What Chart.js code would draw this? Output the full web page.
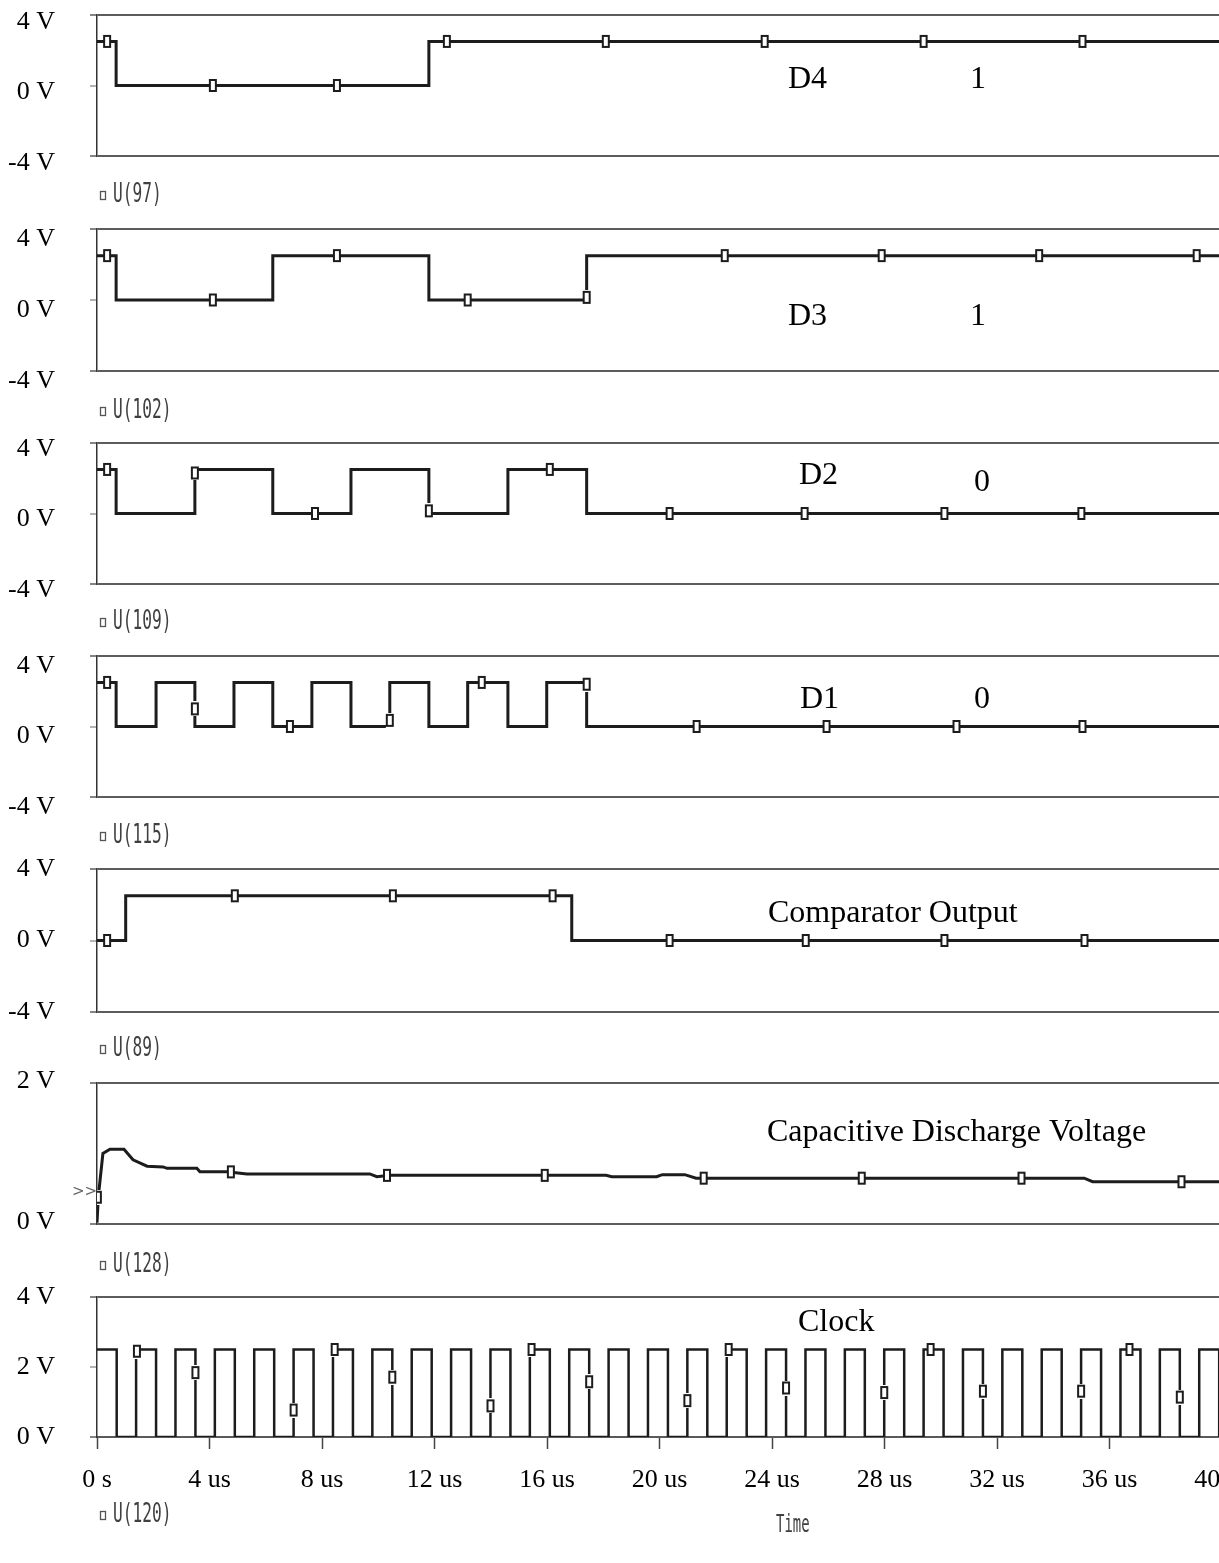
<!DOCTYPE html>
<html>
<head>
<meta charset="utf-8">
<script src="https://cdn.jsdelivr.net/npm/chart.js@4.4.1/dist/chart.umd.min.js"></script>
<style>
  html, body { margin: 0; padding: 0; background: #ffffff; overflow: hidden; }
  #wrap { position: relative; width: 1219px; height: 1563px; overflow: hidden; background: #fff; }
  #wrap canvas { position: absolute; left: 0; }
</style>
</head>
<body>
<div id="wrap"></div>
<script>
// ---------------- DATA (time in microseconds, values in volts) ----------------
const SIM_END = 40.5;

const xTickValues = [0, 4, 8, 12, 16, 20, 24, 28, 32, 36, 40];
const xTickLabels = ['0 s', '4 us', '8 us', '12 us', '16 us', '20 us', '24 us', '28 us', '32 us', '36 us', '40 us'];
const digitalTickLabels = ['-4 V', '0 V', '4 V'];
const capTickLabels = ['0 V', '2 V'];
const clockTickLabels = ['0 V', '2 V', '4 V'];

// D4 = U(97)
const d4Times = [0, 0.68, 11.80];
const d4Volts = [2.5, 0, 2.5];
const d4MarkT = [0.36, 4.12, 8.53, 12.44, 18.09, 23.74, 29.39, 35.04];
const d4MarkV = [2.5, 0, 0, 2.5, 2.5, 2.5, 2.5, 2.5];

// D3 = U(102)
const d3Times = [0, 0.68, 6.25, 11.80, 17.41];
const d3Volts = [2.5, 0, 2.5, 0, 2.5];
const d3MarkT = [0.36, 4.12, 8.53, 13.18, 17.41, 22.32, 27.90, 33.50, 39.10];
const d3MarkV = [2.5, 0, 2.5, 0, 0.15, 2.5, 2.5, 2.5, 2.5];

// D2 = U(109)
const d2Times = [0, 0.68, 3.48, 6.25, 9.03, 11.80, 14.61, 17.41];
const d2Volts = [2.5, 0, 2.5, 0, 2.5, 0, 2.5, 0];
const d2MarkT = [0.36, 3.48, 7.75, 11.80, 16.10, 20.36, 25.16, 30.13, 35.00];
const d2MarkV = [2.5, 2.3, 0, 0.15, 2.5, 0, 0, 0, 0];

// D1 = U(115)
const d1Times = [0, 0.68, 2.10, 3.48, 4.87, 6.25, 7.64, 9.03, 10.41, 11.80, 13.18, 14.61, 15.99, 17.41];
const d1Volts = [2.5, 0, 2.5, 0, 2.5, 0, 2.5, 0, 2.5, 0, 2.5, 0, 2.5, 0];
const d1MarkT = [0.36, 3.48, 6.86, 10.41, 13.68, 17.41, 21.32, 25.94, 30.56, 35.04];
const d1MarkV = [2.5, 1.0, 0, 0.35, 2.5, 2.4, 0, 0, 0, 0];

// Comparator output = U(89)
const cmpTimes = [0, 1.02, 16.88];
const cmpVolts = [0, 2.5, 0];
const cmpMarkT = [0.36, 4.90, 10.52, 16.20, 20.36, 25.20, 30.13, 35.11];
const cmpMarkV = [0, 2.5, 2.5, 2.5, 0, 0, 0, 0];

// Capacitive discharge voltage = U(128)
const capTimes = [0, 0.05, 0.21, 0.46, 0.96, 1.28, 1.78, 2.35, 2.49, 3.55, 3.66, 4.62, 5.33, 9.70, 9.95, 10.41, 10.77, 18.10, 18.30, 19.90, 20.10, 20.90, 21.30, 35.10, 35.40, 40.50];
const capVolts = [0.02, 0.40, 1.00, 1.06, 1.06, 0.91, 0.82, 0.81, 0.79, 0.79, 0.74, 0.74, 0.71, 0.71, 0.67, 0.69, 0.69, 0.69, 0.67, 0.67, 0.70, 0.70, 0.65, 0.65, 0.60, 0.60];
const capMarkT = [0.03, 4.76, 10.31, 15.92, 21.57, 27.19, 32.87, 38.56];
const capMarkV = [0.38, 0.74, 0.69, 0.69, 0.65, 0.65, 0.65, 0.60];

// Clock = U(120)
const clkTimes = [0, 0.70, 1.39, 2.10, 2.79, 3.50, 4.19, 4.90, 5.59, 6.30, 6.99, 7.70, 8.39, 9.10, 9.79, 10.50,
  11.19, 11.90, 12.59, 13.30, 13.99, 14.70, 15.39, 16.10, 16.79, 17.50, 18.19, 18.90, 19.59, 20.30, 20.99, 21.70,
  22.39, 23.10, 23.79, 24.50, 25.19, 25.90, 26.59, 27.30, 27.99, 28.70, 29.39, 30.10, 30.79, 31.50, 32.19, 32.90,
  33.59, 34.30, 34.99, 35.70, 36.39, 37.10, 37.79, 38.50, 39.19, 39.90];
const clkVolts = [2.5, 0, 2.5, 0, 2.5, 0, 2.5, 0, 2.5, 0, 2.5, 0, 2.5, 0, 2.5, 0,
  2.5, 0, 2.5, 0, 2.5, 0, 2.5, 0, 2.5, 0, 2.5, 0, 2.5, 0, 2.5, 0,
  2.5, 0, 2.5, 0, 2.5, 0, 2.5, 0, 2.5, 0, 2.5, 0, 2.5, 0, 2.5, 0,
  2.5, 0, 2.5, 0, 2.5, 0, 2.5, 0, 2.5, 0];
const clkMarkT = [1.42, 3.50, 6.99, 8.45, 10.50, 13.99, 15.45, 17.50, 20.99, 22.46, 24.50, 27.99, 29.64, 31.50, 34.99, 36.71, 38.50];
const clkMarkV = [2.45, 1.84, 0.77, 2.5, 1.71, 0.89, 2.5, 1.58, 1.04, 2.5, 1.40, 1.27, 2.5, 1.31, 1.31, 2.5, 1.14];

// ---------------- helpers ----------------
function toPoints(times, volts) {
  const pts = times.map((t, i) => ({ x: t, y: volts[i] }));
  if (times[times.length - 1] < SIM_END) pts.push({ x: SIM_END, y: volts[volts.length - 1] });
  return pts;
}
function toMarks(times, volts) {
  return times.map((t, i) => ({ x: t, y: volts[i] }));
}

function makeMarkerImage() {
  const c = document.createElement('canvas');
  c.width = 10; c.height = 15;
  const g = c.getContext('2d');
  g.fillStyle = '#ffffff';
  g.fillRect(1, 0, 8, 15);
  g.strokeStyle = '#1c1c1c';
  g.lineWidth = 2;
  g.strokeRect(2, 2, 6, 11);
  return c;
}
const markerImg = makeMarkerImage();

const SERIF = '"Liberation Serif", "Times New Roman", serif';
const MONO = '"DejaVu Sans Mono", "Liberation Mono", monospace';

const overlayPlugin = {
  id: 'overlay',
  afterDraw(chart, args, opts) {
    const ctx = chart.ctx;
    const off = opts.offsetTop || 0;
    ctx.save();
    (opts.items || []).forEach(it => {
      ctx.save();
      ctx.font = it.font;
      ctx.fillStyle = it.color || '#000';
      ctx.textAlign = it.align || 'left';
      ctx.textBaseline = it.baseline || 'alphabetic';
      const sx = it.squeeze || 1;
      ctx.translate(it.x, it.y - off);
      ctx.scale(sx, 1);
      ctx.fillText(it.t, 0, 0);
      ctx.restore();
    });
    (opts.boxes || []).forEach(b => {
      ctx.strokeStyle = '#555';
      ctx.lineWidth = 1.3;
      ctx.strokeRect(b.x + 0.5, b.y - off + 0.5, b.w, b.h);
    });
    ctx.restore();
  }
};

const wrap = document.getElementById('wrap');
const CANVAS_W = 1260;

function buildPanel(p) {
  const padTop = 20;
  const isBottom = !!p.bottomAxis;
  const plotH = p.bottom - p.top;
  const xAxisH = isBottom ? 126 : 0;
  const padBottom = isBottom ? 0 : 60;
  const H = padTop + plotH + xAxisH + padBottom;
  const canvasTop = p.top - padTop;

  const c = document.createElement('canvas');
  c.width = CANVAS_W; c.height = H;
  c.style.top = canvasTop + 'px';
  c.style.width = CANVAS_W + 'px';
  c.style.height = H + 'px';
  wrap.appendChild(c);

  const items = [
    { t: p.legend, x: 113, y: p.legendY, font: '27px ' + MONO, color: '#404040', baseline: 'middle', squeeze: 0.6 }
  ].concat(p.notes || []);
  const boxes = [{ x: 100, y: p.legendY - 4, w: 5, h: 8 }];

  const isEdge = v => v === p.min || v === p.max;

  new Chart(c, {
    type: 'line',
    data: {
      datasets: [
        {
          data: toMarks(p.markT, p.markV),
          showLine: false,
          pointStyle: markerImg,
          pointRadius: 5,
          order: 0
        },
        {
          data: toPoints(p.times, p.volts),
          stepped: p.stepped ? 'before' : false,
          borderColor: '#1c1c1c',
          borderWidth: p.lw || 3,
          pointRadius: 0,
          fill: false,
          tension: 0,
          order: 1
        }
      ]
    },
    options: {
      responsive: false,
      animation: false,
      devicePixelRatio: 1,
      events: [],
      layout: { padding: { left: 0, right: 38, top: padTop, bottom: padBottom } },
      plugins: {
        legend: { display: false },
        tooltip: { enabled: false },
        overlay: { offsetTop: canvasTop, items: items, boxes: boxes }
      },
      scales: {
        x: {
          type: 'linear',
          min: 0,
          max: 40,
          display: isBottom,
          afterFit: s => {
            if (isBottom) s.height = xAxisH;
            s.paddingLeft = 0; s.paddingRight = 0; s.paddingTop = 0; s.paddingBottom = 0;
          },
          afterBuildTicks: s => { s.ticks = xTickValues.map(v => ({ value: v })); },
          border: { display: true, color: '#5a5a5a', width: 2 },
          grid: { drawOnChartArea: false, drawTicks: true, tickLength: 12, tickColor: '#444', tickWidth: 1.5 },
          ticks: {
            padding: 16,
            maxRotation: 0,
            autoSkip: false,
            color: '#000',
            font: { family: SERIF, size: 26 },
            callback: (v, i) => xTickLabels[i]
          }
        },
        y: {
          type: 'linear',
          min: p.min,
          max: p.max,
          afterFit: s => {
            s.width = 97;
            s.paddingTop = 0; s.paddingBottom = 0; s.paddingLeft = 0; s.paddingRight = 0;
          },
          border: { display: true, color: '#333', width: 1.5 },
          grid: {
            drawOnChartArea: true,
            drawTicks: true,
            tickLength: 7,
            color: ctx => (ctx.tick && isEdge(ctx.tick.value)) ? '#5c5c5c' : 'rgba(0,0,0,0)',
            lineWidth: ctx => (ctx.tick && isEdge(ctx.tick.value)) ? 2 : 0,
            tickColor: ctx => (ctx.tick && isEdge(ctx.tick.value)) ? '#5c5c5c' : '#9a9a9a',
            tickWidth: 1.5
          },
          ticks: {
            stepSize: p.step,
            padding: 35,
            labelOffset: p.labelOffset || 0,
            autoSkip: false,
            color: '#000',
            font: { family: SERIF, size: 26 },
            callback: (v, i) => p.tickLabels[i]
          }
        }
      }
    },
    plugins: [overlayPlugin]
  });
}

const noteFont = '32px ' + SERIF;

const panels = [
  { top: 15, bottom: 156, min: -4, max: 4, step: 4, tickLabels: digitalTickLabels, labelOffset: 7,
    times: d4Times, volts: d4Volts, markT: d4MarkT, markV: d4MarkV, stepped: true,
    legend: 'U(97)', legendY: 195,
    notes: [{ t: 'D4', x: 788, y: 88, font: noteFont }, { t: '1', x: 970, y: 88, font: noteFont }] },
  { top: 229, bottom: 371, min: -4, max: 4, step: 4, tickLabels: digitalTickLabels, labelOffset: 10,
    times: d3Times, volts: d3Volts, markT: d3MarkT, markV: d3MarkV, stepped: true,
    legend: 'U(102)', legendY: 411,
    notes: [{ t: 'D3', x: 788, y: 325, font: noteFont }, { t: '1', x: 970, y: 325, font: noteFont }] },
  { top: 443, bottom: 584, min: -4, max: 4, step: 4, tickLabels: digitalTickLabels, labelOffset: 6,
    times: d2Times, volts: d2Volts, markT: d2MarkT, markV: d2MarkV, stepped: true,
    legend: 'U(109)', legendY: 622,
    notes: [{ t: 'D2', x: 799, y: 484, font: noteFont }, { t: '0', x: 974, y: 491, font: noteFont }] },
  { top: 656, bottom: 797, min: -4, max: 4, step: 4, tickLabels: digitalTickLabels, labelOffset: 10,
    times: d1Times, volts: d1Volts, markT: d1MarkT, markV: d1MarkV, stepped: true,
    legend: 'U(115)', legendY: 836,
    notes: [{ t: 'D1', x: 800, y: 708, font: noteFont }, { t: '0', x: 974, y: 708, font: noteFont }] },
  { top: 869, bottom: 1012, min: -4, max: 4, step: 4, tickLabels: digitalTickLabels, labelOffset: 0,
    times: cmpTimes, volts: cmpVolts, markT: cmpMarkT, markV: cmpMarkV, stepped: true,
    legend: 'U(89)', legendY: 1049,
    notes: [{ t: 'Comparator Output', x: 768, y: 922, font: noteFont }] },
  { top: 1083, bottom: 1224, min: 0, max: 2, step: 2, tickLabels: capTickLabels, labelOffset: -2,
    times: capTimes, volts: capVolts, markT: capMarkT, markV: capMarkV, stepped: false,
    legend: 'U(128)', legendY: 1265,
    notes: [{ t: 'Capacitive Discharge Voltage', x: 767, y: 1141, font: noteFont },
            { t: '>>', x: 72, y: 1192, font: '15px "DejaVu Sans", sans-serif', color: '#666', baseline: 'middle' }] },
  { top: 1297, bottom: 1437, min: 0, max: 4, step: 2, tickLabels: clockTickLabels, labelOffset: 0,
    times: clkTimes, volts: clkVolts, markT: clkMarkT, markV: clkMarkV, stepped: true, lw: 2.5,
    bottomAxis: true,
    legend: 'U(120)', legendY: 1515,
    notes: [{ t: 'Clock', x: 798, y: 1331, font: noteFont },
            { t: 'Time', x: 776, y: 1526, font: '24px ' + MONO, color: '#404040', baseline: 'middle', squeeze: 0.58 }] }
];

panels.forEach(buildPanel);
</script>
</body>
</html>
